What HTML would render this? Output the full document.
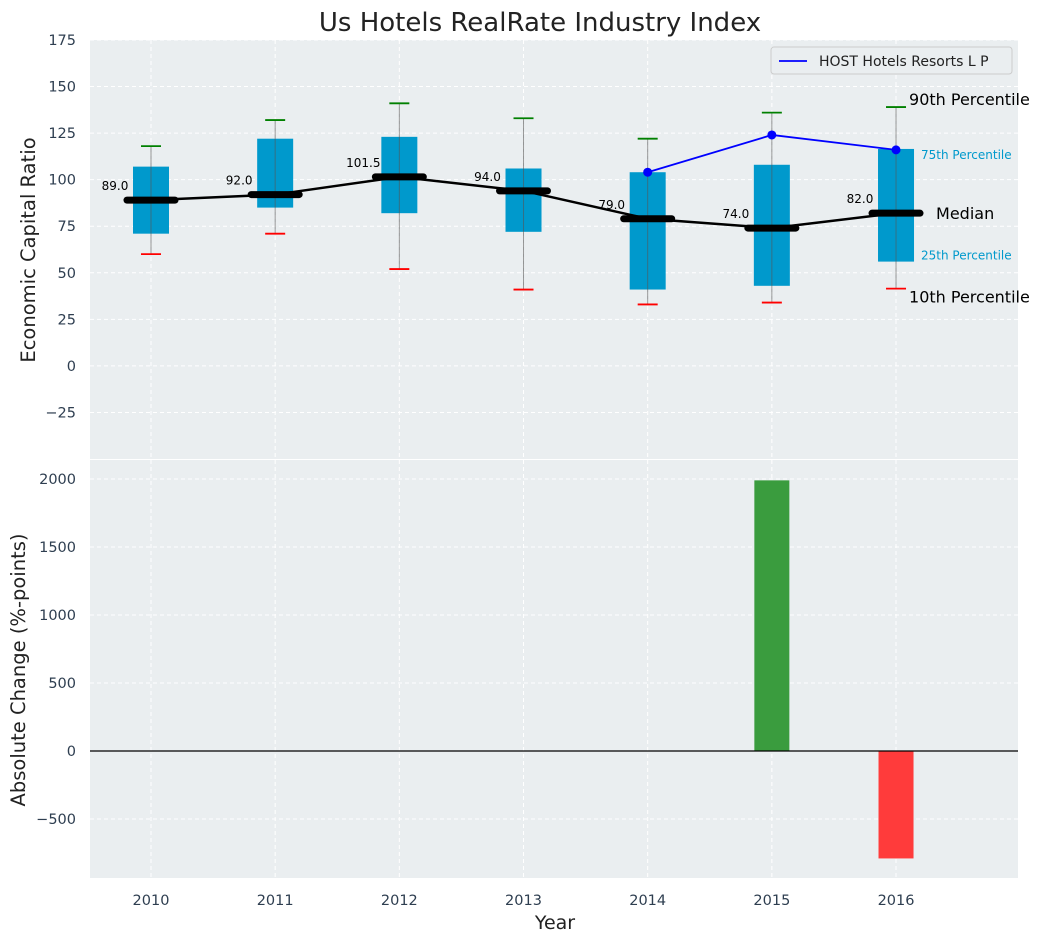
<!DOCTYPE html>
<html><head><meta charset="utf-8"><style>
body{margin:0;background:#fff;}
svg{font-family:"DejaVu Sans","Liberation Sans",sans-serif;}
</style></head><body>
<svg id="c" width="1044" height="942" xmlns="http://www.w3.org/2000/svg"></svg>
<script>
const years=["2010","2011","2012","2013","2014","2015","2016"];
const p10=[60,71,52,41,33,34,41.5];
const q1=[71,85,82,72,41,43,56];
const med=[89,92,101.5,94,79,74,82];
const q3=[107,122,123,106,104,108,116.5];
const p90=[118,132,141,133,122,136,139];
const hostIdx=[4,5,6];
const hostVals=[104,124,116];
const changeVals=[0,0,0,0,0,1990,-790];
const topTicks=[-25,0,25,50,75,100,125,150,175];
const botTicks=[-500,0,500,1000,1500,2000];

const svg=document.getElementById('c');
const NS='http://www.w3.org/2000/svg';
function mk(tag,attrs,parent){const e=document.createElementNS(NS,tag);for(const k in attrs)e.setAttribute(k,attrs[k]);(parent||svg).appendChild(e);return e;}
function tx(x,y,s,attrs){const e=mk('text',Object.assign({x:x,y:y},attrs||{}));e.textContent=s;return e;}
const L=90,R=1018;
const X=i=>151+i*124.17;
const T0=40,T1=459,Y=v=>T1-(v+50)/225*(T1-T0);
const B0=460,B1=878,YB=v=>751-v*0.136;

let g=mk('rect',{x:L,y:T0,width:R-L,height:T1-T0,fill:'#eaeef0'});

g=mk('rect',{x:L,y:B0,width:R-L,height:B1-B0,fill:'#eaeef0'});


topTicks.forEach(v=>{mk('line',{x1:L,x2:R,y1:Y(v),y2:Y(v),stroke:'#fff','stroke-dasharray':'4,3','stroke-width':1});
 const t=tx(L-14,Y(v)+5,v<0?'\u2212'+(-v):String(v),{'text-anchor':'end','font-size':14.5,fill:'#2e3e50'});
 });
botTicks.forEach(v=>{mk('line',{x1:L,x2:R,y1:YB(v),y2:YB(v),stroke:'#fff','stroke-dasharray':'4,3','stroke-width':1});
 const t=tx(L-14,YB(v)+5,v<0?'\u2212'+(-v):String(v),{'text-anchor':'end','font-size':14.5,fill:'#2e3e50'});
 });
years.forEach((y,i)=>{mk('line',{x1:X(i),x2:X(i),y1:T0,y2:T1,stroke:'#fff','stroke-dasharray':'4,3'});
 mk('line',{x1:X(i),x2:X(i),y1:B0,y2:B1,stroke:'#fff','stroke-dasharray':'4,3'});
 const t=tx(X(i),905,y,{'text-anchor':'middle','font-size':14.5,fill:'#2e3e50'});
 });

years.forEach((y,i)=>{
 const b=mk('rect',{x:X(i)-18,y:Y(q3[i]),width:36,height:Y(q1[i])-Y(q3[i]),fill:'#0099cc'});
 
 const w=mk('line',{x1:X(i),x2:X(i),y1:Y(p10[i]),y2:Y(p90[i]),stroke:'#555','stroke-opacity':0.6,'stroke-width':1});
 
 const c1=mk('line',{x1:X(i)-10,x2:X(i)+10,y1:Y(p90[i]),y2:Y(p90[i]),stroke:'green','stroke-width':1.8});
 
 const c2=mk('line',{x1:X(i)-10,x2:X(i)+10,y1:Y(p10[i]),y2:Y(p10[i]),stroke:'red','stroke-width':1.8});
 
});
const mp=mk('polyline',{points:med.map((v,i)=>X(i)+','+Y(v)).join(' '),fill:'none',stroke:'#000','stroke-width':2.5});

years.forEach((y,i)=>{
 const m=mk('line',{x1:X(i)-24,x2:X(i)+24,y1:Y(med[i]),y2:Y(med[i]),stroke:'#000','stroke-width':7,'stroke-linecap':'round'});
 
 const t=tx(X(i)-36,Y(med[i])-10,med[i].toFixed(1),{'text-anchor':'middle','font-size':12,fill:'#000'});
 
});
const hp=mk('polyline',{points:hostIdx.map((k,j)=>X(k)+','+Y(hostVals[j])).join(' '),fill:'none',stroke:'blue','stroke-width':1.8});

hostIdx.forEach((k,j)=>{const c=mk('circle',{cx:X(k),cy:Y(hostVals[j]),r:4.5,fill:'blue'});
 });
const li=6,lx=X(li);
[[p90[li],'90th Percentile',13,-2,'#000',16],[q3[li],'75th Percentile',25,10,'#0099cc',12],[med[li],'Median',40,6,'#000',16],[q1[li],'25th Percentile',25,-2,'#0099cc',12],[p10[li],'10th Percentile',13,14,'#000',16]].forEach(a=>{
 const t=tx(lx+a[2],Y(a[0])+a[3],a[1],{'font-size':a[5],fill:a[4]});
 });

g=mk('g',{});
mk('rect',{x:771,y:47,width:241,height:27,rx:3,fill:'#eaeef0',stroke:'#ccc'},g);
mk('line',{x1:779,x2:807,y1:61,y2:61,stroke:'blue','stroke-width':1.8},g);
tx(819,66,'HOST Hotels Resorts L P',{'font-size':14,fill:'#222'});

changeVals.forEach((v,i)=>{if(!v)return;
 const b=mk('rect',{x:X(i)-17.5,y:Math.min(YB(v),YB(0)),width:35,height:Math.abs(YB(v)-YB(0)),fill:v>0?'#3a9c3e':'#ff3b3b'});
 });
g=mk('line',{x1:L,x2:R,y1:YB(0),y2:YB(0),stroke:'#000','stroke-width':1.2});


g=tx(540,31,'Us Hotels RealRate Industry Index',{'text-anchor':'middle','font-size':26,fill:'#222'});

g=tx(555,929,'Year',{'text-anchor':'middle','font-size':19,fill:'#222'});

g=tx(0,0,'Economic Capital Ratio',{'text-anchor':'middle','font-size':19.5,fill:'#222',transform:'translate(35,250) rotate(-90)'});

g=tx(0,0,'Absolute Change (%-points)',{'text-anchor':'middle','font-size':19.5,fill:'#222',transform:'translate(25,670) rotate(-90)'});

</script>
</body></html>
